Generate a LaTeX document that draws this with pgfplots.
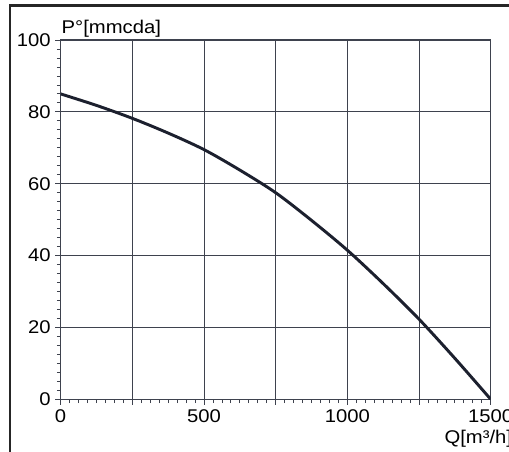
\documentclass[border=0pt]{standalone}
\usepackage{pgfplots}
\pgfplotsset{compat=1.18}
\usepackage{fontspec}
\setmainfont[FakeStretch=1.1]{Liberation Sans}
\definecolor{gridc}{RGB}{62,66,78}
\definecolor{curvec}{RGB}{28,32,46}
\definecolor{framec}{RGB}{38,38,38}
\begin{document}
\begin{tikzpicture}
\begin{axis}[
    scale only axis,
    width=322.6pt,
    height=269.5pt,
    xmin=0, xmax=1500,
    ymin=0, ymax=100,
    xtick={0,250,...,1500},
    xticklabels={0,,500,,1000,,1500},
    ytick={0,20,...,100},
    minor x tick num=7,
    minor y tick num=7,
    xtick pos=lower,
    ytick pos=left,
    tick align=outside,
    major tick length=4pt,
    minor tick length=2.8pt,
    grid=major,
    major grid style={gridc, line width=0.7pt},
    axis line style={gridc, line width=0.8pt},
    tick style={gridc, line width=0.6pt},
    font=\fontsize{13.8}{16}\selectfont,
    /pgf/number format/assume math mode=true,
    xlabel={Q[m³/h]},
    ylabel={P°[mmcda]},
    every axis x label/.style={at={(rel axis cs:0.892,-0.1216)}, anchor=base west, inner sep=0pt},
    every axis y label/.style={at={(rel axis cs:0.002,1.0187)}, anchor=base west, inner sep=0pt},
]
\addplot[curvec, line width=2.2pt, smooth, no marks] coordinates {
    (0,85) (125,81.8) (250,78.2) (375,74.1) (500,69.5) (625,63.8)
    (750,57.5) (875,49.8) (1000,41.5) (1125,32.2) (1250,22.3)
    (1375,11.4) (1500,0)
};
\end{axis}
\draw[framec, line width=2.2pt] (-37.95pt,-60pt) -- (-37.95pt,295.1pt) -- (360pt,295.1pt);
\pgfresetboundingbox
\useasboundingbox (-45.45pt,-39.5pt) rectangle (336.3pt,299.5pt);
\end{tikzpicture}
\end{document}
